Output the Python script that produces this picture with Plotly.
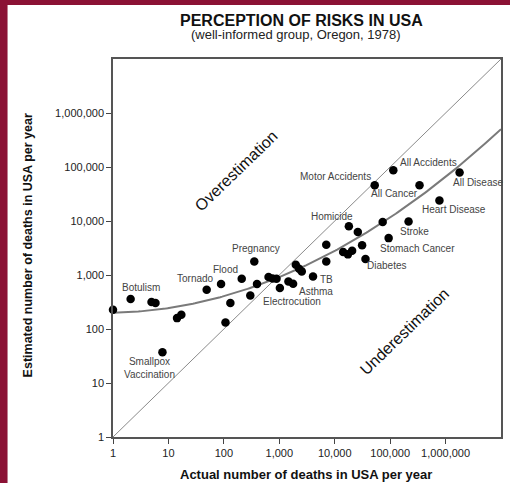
import numpy as np
import plotly.graph_objects as go

# ---- data ----
actual = [1, 2.08, 4.95, 5.84, 7.8, 14.3, 17.1, 49, 89, 107,
          131, 210, 354, 300, 396, 640, 755, 891, 1025, 1463,
          1776, 1987, 2277, 2545, 4060, 7040, 7040, 14200, 17300, 20600,
          18000, 26100, 31200, 35900, 73300, 94000, 215000, 52700, 114000, 339000,
          775000, 1790000]
estimated = [227, 359, 316, 302, 37, 159, 183, 533, 681, 132,
             302, 853, 1787, 418, 681, 918, 865, 853, 574, 761,
             690, 1553, 1309, 1167, 942, 3650, 1787, 2670, 2410, 2825,
             7980, 6280, 3540, 1982, 9540, 4820, 9750, 45900, 87300, 45900,
             23900, 79100]
hazard_names = ["", "Botulism", "", "", "Smallpox<br>Vaccination", "", "", "Tornado", "Flood", "",
                "", "", "Pregnancy", "", "", "", "", "", "Electrocution", "",
                "Asthma", "", "", "", "TB", "", "", "", "", "",
                "Homicide", "", "", "Diabetes", "", "Stomach Cancer", "Stroke", "Motor Accidents", "All Accidents", "All Cancer",
                "Heart Disease", "All Disease"]
# quadratic fit in log-log space (coefficients)
fit_coefficients = [0.0664, 0.021, 2.3]

tick_values = [1, 10, 100, 1000, 10000, 100000, 1000000]
tick_labels = ["1", "10", "100", "1,000", "10,000", "100,000", "1,000,000"]
axis_extent = [1, 1e7]

# ---- label placement (pixel offsets from each point: dx right, dy down) ----
label_offsets = {
    "Botulism": (10, -12), "Smallpox<br>Vaccination": (-13, 16), "Tornado": (-11, -11),
    "Flood": (4, -15), "Pregnancy": (2, -13), "Electrocution": (12, 13),
    "Asthma": (23, 8), "TB": (13, 3), "Homicide": (-17, -10), "Diabetes": (21, 7),
    "Stomach Cancer": (29, 10), "Stroke": (6, 10), "Motor Accidents": (-39, -9),
    "All Accidents": (35, -8), "All Cancer": (-25, 8), "Heart Disease": (15, 9),
    "All Disease": (18, 10),
}

FONT = "Liberation Sans, Arial, Helvetica, sans-serif"
MAROON = "#8B1235"

fig = go.Figure()

# y = x reference line
fig.add_trace(go.Scatter(x=axis_extent, y=axis_extent, mode="lines",
                         line=dict(color="#8a8a8a", width=1), hoverinfo="skip",
                         showlegend=False))

# fitted curve
u = np.linspace(np.log10(axis_extent[0]), np.log10(axis_extent[1]), 200)
v = np.polyval(fit_coefficients, u)
fig.add_trace(go.Scatter(x=10 ** u, y=10 ** v, mode="lines",
                         line=dict(color="#7a7a7a", width=2), hoverinfo="skip",
                         showlegend=False))

# points
fig.add_trace(go.Scatter(x=actual, y=estimated, mode="markers",
                         marker=dict(color="black", size=8.5),
                         cliponaxis=False, showlegend=False))

annotations = []
for xa, ye, name in zip(actual, estimated, hazard_names):
    if not name:
        continue
    dx, dy = label_offsets[name]
    annotations.append(dict(x=np.log10(xa), y=np.log10(ye), xref="x", yref="y",
                            text=name, showarrow=False, xshift=dx, yshift=-dy,
                            xanchor="center", yanchor="middle",
                            font=dict(family=FONT, size=10, color="#444")))


def paper_text(x, y, text, size, color="#111", angle=0):
    return dict(x=x, y=y, xref="paper", yref="paper", showarrow=False,
                xanchor="center", yanchor="middle", textangle=angle,
                text=text, font=dict(family=FONT, size=size, color=color))


annotations += [
    paper_text(0.487, 1.103, "<b>PERCEPTION OF RISKS IN USA</b>", 16),
    paper_text(0.472, 1.064, "(well-informed group, Oregon, 1978)", 13, "#222"),
    paper_text(0.497, -0.098, "<b>Actual number of deaths in USA per year</b>", 13),
    paper_text(-0.218, 0.508, "<b>Estimated number of deaths in USA per year</b>", 12.5, angle=-90),
    paper_text(0.318, 0.706, "Overestimation", 16, angle=-44),
    paper_text(0.751, 0.280, "Underestimation", 16, angle=-44),
]

axis_style = dict(type="log", range=[0, 7], showgrid=False, zeroline=False,
                  ticks="outside", ticklen=5, tickwidth=1, tickcolor="#444",
                  showline=True, mirror=True, linecolor="#555", linewidth=1.5,
                  tickvals=tick_values, ticktext=tick_labels,
                  tickfont=dict(family=FONT, size=11, color="#222"))

# page is maroon; a white sheet covers all but a 7 px left strip and 5 px top strip
PX_W, PX_H = 390.0, 378.0
white_sheet = dict(type="rect", xref="paper", yref="paper",
                   x0=-106 / PX_W, x1=1.1, y0=-0.3, y1=1 + 54 / PX_H,
                   fillcolor="white", line=dict(width=0), layer="below")

fig.update_layout(
    width=510, height=483,
    margin=dict(l=113, r=7, t=59, b=46),
    paper_bgcolor=MAROON, plot_bgcolor="white",
    xaxis=axis_style, yaxis=axis_style,
    annotations=annotations,
    shapes=[white_sheet],
)

fig.write_html("out.html",
               config={"displayModeBar": False},
               post_script="document.body.style.margin='0';document.body.style.overflow='hidden';")
